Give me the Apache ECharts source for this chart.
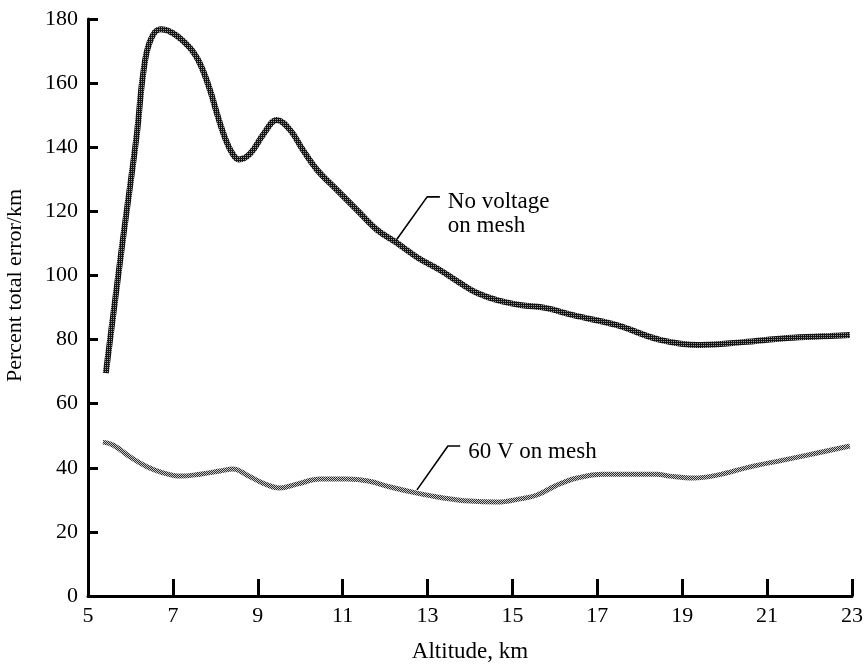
<!DOCTYPE html>
<html>
<head>
<meta charset="utf-8">
<script src="https://cdn.jsdelivr.net/npm/echarts@6/dist/echarts.min.js"></script>
<style>
  html, body { margin: 0; padding: 0; background: #fff; }
  #chart { width: 866px; height: 664px; }
</style>
</head>
<body>
<div id="chart"></div>
<script>
// Altitude (km) and percent total error per km, no voltage on the mesh
const noVoltageAlt = [5.42, 5.82, 6.15, 6.3, 6.46, 6.7, 7.0, 7.4, 7.64, 7.87, 8.05, 8.24, 8.39, 8.55, 8.82, 9.13, 9.45, 9.76, 10.07, 10.4, 10.87, 11.34, 11.81, 12.28, 12.75, 13.29, 13.77, 14.17, 14.64, 15.18, 15.8, 16.43, 17.46, 18.48, 19.42, 20.43, 21.47, 22.48, 22.95];
const noVoltageErr = [69.5, 111, 144, 163, 173, 176.8, 175.6, 171, 166, 158, 150, 142.5, 138.3, 136.2, 138, 144, 148.5, 145.4, 139, 132.9, 126.6, 120.4, 114.2, 110.1, 105.7, 101.7, 97.6, 94.5, 92.3, 90.8, 89.8, 87.6, 84.5, 79.9, 78.3, 79.2, 80.5, 81.1, 81.4];

// Same quantity with 60 V applied to the mesh
const meshAlt = [5.35, 5.59, 5.99, 6.39, 6.77, 7.17, 7.64, 8.11, 8.42, 8.75, 9.12, 9.52, 9.92, 10.47, 11.1, 11.6, 12.12, 12.75, 13.37, 14.0, 14.64, 15.18, 15.58, 16.05, 16.52, 17.13, 17.94, 18.4, 18.7, 19.26, 19.82, 20.6, 21.38, 22.18, 22.95];
const meshErr = [48, 47.1, 43.4, 40.3, 38.4, 37.4, 38, 39, 39.6, 37.7, 35.2, 33.7, 34.9, 36.5, 36.5, 35.9, 34, 32.1, 30.6, 29.6, 29.3, 30.3, 31.5, 34.6, 36.8, 38, 38, 38, 37.4, 36.8, 37.7, 40.3, 42.4, 44.6, 46.8];

// Axis ticks
const xTicks = [5, 7, 9, 11, 13, 15, 17, 19, 21, 23];
const yTicks = [0, 20, 40, 60, 80, 100, 120, 140, 160, 180];

// Curve labels and their leader lines (altitude, error)
const noVoltageLabel = 'No voltage\non mesh';
const noVoltageLeader = [[12.26, 111], [12.99, 124.5], [13.29, 124.5]];
const meshLabel = '60 V on mesh';
const meshLeader = [[12.75, 33.1], [13.48, 46.8], [13.77, 46.8]];

const FONT = '"Liberation Serif", "Times New Roman", serif';

function zip(xs, ys) { return xs.map((x, i) => [x, ys[i]]); }

// Halftone-like stroke fill
function halftone(dark, light, fullCheck) {
  const c = document.createElement('canvas');
  c.width = 2; c.height = 2;
  const ctx = c.getContext('2d');
  ctx.fillStyle = dark; ctx.fillRect(0, 0, 2, 2);
  ctx.fillStyle = light;
  ctx.fillRect(1, 1, 1, 1);
  if (fullCheck) ctx.fillRect(0, 0, 1, 1);
  return { image: c, repeat: 'repeat' };
}

function leaderSeries(points, text, offsetY) {
  return {
    type: 'line', data: points, symbol: 'none', silent: true, z: 3,
    lineStyle: { color: '#000', width: 1.6 },
    endLabel: {
      show: true, distance: 8, offset: [0, offsetY],
      formatter: text, color: '#000', fontFamily: FONT, fontSize: 23,
      lineHeight: 24, align: 'left'
    }
  };
}

const chart = echarts.init(document.getElementById('chart'), null, { renderer: 'canvas' });
chart.setOption({
  animation: false,
  backgroundColor: '#fff',
  grid: { left: 88, right: 14, top: 19, bottom: 68, outerBoundsMode: 'none', containLabel: false },
  xAxis: {
    type: 'value', min: xTicks[0], max: xTicks[xTicks.length - 1], interval: 2,
    name: 'Altitude, km', nameLocation: 'middle', nameGap: 44,
    nameTextStyle: { color: '#000', fontFamily: FONT, fontSize: 23 },
    axisLine: { lineStyle: { color: '#000', width: 3 } },
    axisTick: { inside: true, length: 17, lineStyle: { color: '#000', width: 3 } },
    axisLabel: { color: '#000', fontFamily: FONT, fontSize: 22, margin: 9 },
    splitLine: { show: false }
  },
  yAxis: {
    type: 'value', min: yTicks[0], max: yTicks[yTicks.length - 1], interval: 20,
    name: 'Percent total error/km', nameLocation: 'middle', nameGap: 62,
    nameTextStyle: { color: '#000', fontFamily: FONT, fontSize: 22, padding: [0, 0, 0, 44] },
    axisLine: { lineStyle: { color: '#000', width: 3 } },
    axisTick: { inside: true, length: 10, lineStyle: { color: '#000', width: 3 } },
    axisLabel: { color: '#000', fontFamily: FONT, fontSize: 22, margin: 10 },
    splitLine: { show: false }
  },
  series: [
    {
      name: 'No voltage on mesh', type: 'line', data: zip(noVoltageAlt, noVoltageErr),
      smooth: 0.4, symbol: 'none', z: 4,
      lineStyle: { color: halftone('#151515', '#9a9a9a', false), width: 6 }
    },
    {
      name: '60 V on mesh', type: 'line', data: zip(meshAlt, meshErr),
      smooth: 0.4, symbol: 'none', z: 4,
      lineStyle: { color: halftone('#303030', '#c8c8c8', true), width: 5 }
    },
    leaderSeries(noVoltageLeader, noVoltageLabel, 17),
    leaderSeries(meshLeader, meshLabel, 6)
  ]
});
</script>
</body>
</html>
